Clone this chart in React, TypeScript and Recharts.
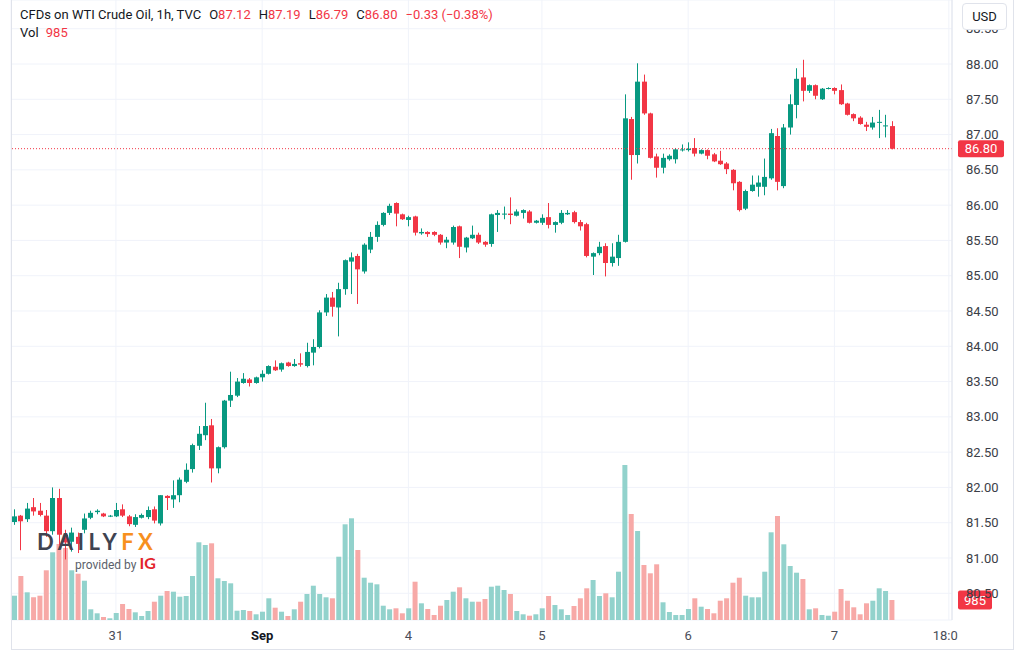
import { ComposedChart, Bar, XAxis, YAxis, CartesianGrid, ReferenceLine, Cell } from "recharts";

// hourly candles, WTI crude (TVC), Aug 30 -> Sep 7
const opens = [
  81.51, 81.60, 81.55, 81.72, 81.67, 81.60, 81.38, 81.85, 81.33, 81.23,
  81.30, 81.40, 81.57, 81.65, 81.63, 81.59, 81.59, 81.69, 81.59, 81.47,
  81.57, 81.58, 81.69, 81.49, 81.88, 81.83, 81.89, 82.08, 82.26, 82.59,
  82.74, 82.88, 82.27, 82.57, 83.23, 83.30, 83.48, 83.53, 83.48, 83.56,
  83.61, 83.71, 83.67, 83.77, 83.72, 83.76, 83.72, 83.91, 83.99, 84.48,
  84.69, 84.55, 84.81, 85.20, 85.28, 85.06, 85.37, 85.55, 85.72, 85.89,
  86.03, 85.87, 85.79, 85.84, 85.60, 85.62, 85.62, 85.58, 85.47, 85.47,
  85.70, 85.40, 85.53, 85.58, 85.48, 85.45, 85.86, 85.87, 85.88, 85.85,
  85.89, 85.91, 85.75, 85.75, 85.83, 85.72, 85.75, 85.87, 85.90, 85.76,
  85.73, 85.27, 85.32, 85.42, 85.18, 85.25, 85.48, 87.22, 86.71, 87.75,
  87.30, 86.69, 86.53, 86.65, 86.65, 86.78, 86.78, 86.81, 86.73, 86.78,
  86.72, 86.63, 86.59, 86.50, 86.33, 85.95, 86.20, 86.26, 86.26, 86.38,
  86.98, 86.27, 87.10, 87.42, 87.81, 87.62, 87.70, 87.50, 87.65, 87.66,
  87.63, 87.44, 87.29, 87.24, 87.14, 87.10, 87.17, 87.12, 87.12,
];
const highs = [
  81.69, 81.61, 81.78, 81.85, 81.78, 81.68, 82.00, 81.98, 81.40, 81.43,
  81.36, 81.63, 81.67, 81.69, 81.64, 81.61, 81.78, 81.76, 81.61, 81.62,
  81.63, 81.73, 81.73, 81.89, 81.89, 82.10, 82.14, 82.34, 82.62, 82.87,
  83.20, 82.97, 82.58, 83.24, 83.64, 83.55, 83.62, 83.55, 83.57, 83.66,
  83.73, 83.80, 83.77, 83.78, 83.82, 83.90, 84.05, 84.10, 84.51, 84.74,
  84.77, 84.90, 85.23, 85.33, 85.31, 85.46, 85.62, 85.77, 85.90, 86.02,
  86.04, 85.88, 85.85, 85.85, 85.67, 85.63, 85.63, 85.59, 85.55, 85.71,
  85.71, 85.55, 85.71, 85.61, 85.49, 85.88, 85.93, 85.98, 86.11, 85.94,
  85.94, 85.93, 85.79, 85.87, 86.03, 85.77, 85.93, 85.93, 85.92, 85.79,
  85.75, 85.33, 85.48, 85.46, 85.46, 85.58, 87.57, 87.25, 88.01, 87.85,
  87.31, 86.73, 86.73, 86.72, 86.81, 86.86, 86.89, 86.95, 86.79, 86.79,
  86.74, 86.77, 86.61, 86.51, 86.34, 86.22, 86.42, 86.42, 86.66, 87.08,
  87.09, 87.15, 87.57, 87.94, 88.06, 87.71, 87.71, 87.66, 87.67, 87.67,
  87.71, 87.45, 87.30, 87.26, 87.18, 87.25, 87.35, 87.28, 87.19,
];
const lows = [
  81.47, 81.11, 81.51, 81.60, 81.59, 81.30, 81.33, 81.18, 80.98, 81.09,
  81.07, 81.35, 81.55, 81.62, 81.58, 81.58, 81.58, 81.58, 81.45, 81.44,
  81.56, 81.55, 81.49, 81.46, 81.68, 81.71, 81.79, 82.06, 82.21, 82.53,
  82.67, 82.07, 82.20, 82.55, 83.14, 83.28, 83.47, 83.43, 83.47, 83.50,
  83.60, 83.65, 83.64, 83.71, 83.71, 83.71, 83.70, 83.73, 83.97, 84.43,
  84.42, 84.14, 84.73, 84.74, 84.60, 85.03, 85.32, 85.48, 85.70, 85.86,
  85.70, 85.79, 85.70, 85.57, 85.58, 85.55, 85.56, 85.44, 85.39, 85.44,
  85.25, 85.33, 85.52, 85.45, 85.41, 85.41, 85.62, 85.80, 85.73, 85.84,
  85.81, 85.74, 85.74, 85.72, 85.67, 85.61, 85.73, 85.86, 85.74, 85.64,
  85.26, 85.01, 85.29, 84.99, 85.13, 85.14, 85.47, 86.36, 86.59, 87.28,
  86.66, 86.39, 86.45, 86.63, 86.59, 86.76, 86.76, 86.69, 86.72, 86.65,
  86.61, 86.57, 86.44, 86.21, 85.91, 85.93, 86.19, 86.12, 86.14, 86.36,
  86.21, 86.24, 87.00, 87.23, 87.47, 87.59, 87.50, 87.49, 87.64, 87.57,
  87.42, 87.27, 87.19, 87.14, 87.05, 87.07, 86.95, 86.96, 86.79,
];
const closes = [
  81.59, 81.52, 81.70, 81.66, 81.61, 81.38, 81.85, 81.33, 81.22, 81.36,
  81.20, 81.56, 81.64, 81.67, 81.59, 81.60, 81.68, 81.60, 81.48, 81.58,
  81.61, 81.68, 81.53, 81.89, 81.85, 81.89, 82.11, 82.25, 82.60, 82.76,
  82.87, 82.27, 82.57, 83.23, 83.31, 83.50, 83.54, 83.48, 83.56, 83.61,
  83.72, 83.66, 83.76, 83.72, 83.75, 83.74, 83.92, 83.99, 84.48, 84.69,
  84.56, 84.81, 85.22, 85.26, 85.09, 85.44, 85.55, 85.72, 85.89, 85.99,
  85.88, 85.80, 85.83, 85.61, 85.62, 85.59, 85.58, 85.47, 85.51, 85.69,
  85.41, 85.54, 85.58, 85.47, 85.44, 85.87, 85.89, 85.88, 85.86, 85.91,
  85.93, 85.75, 85.78, 85.82, 85.72, 85.76, 85.89, 85.89, 85.76, 85.70,
  85.28, 85.32, 85.41, 85.18, 85.27, 85.48, 87.23, 86.71, 87.75, 87.30,
  86.67, 86.53, 86.67, 86.70, 86.79, 86.79, 86.80, 86.73, 86.78, 86.70,
  86.62, 86.58, 86.51, 86.31, 85.93, 86.20, 86.29, 86.32, 86.40, 87.02,
  86.33, 87.10, 87.43, 87.79, 87.62, 87.70, 87.55, 87.65, 87.66, 87.62,
  87.43, 87.28, 87.23, 87.15, 87.11, 87.17, 87.18, 87.13, 86.80,
];
const volumes = [
  1197, 2167, 1364, 1118, 1197, 2448, 3334, 3743, 3546, 2448,
  2280, 1935, 527, 330, 148, 84, 345, 788, 542, 379,
  197, 443, 901, 1197, 1428, 1394, 1148, 1182, 2167, 3827,
  3694, 3777, 2054, 1921, 1807, 458, 493, 443, 281, 409,
  1069, 606, 409, 197, 527, 901, 1281, 1689, 1281, 1118,
  1069, 3117, 4713, 5009, 3448, 2083, 1837, 1758, 704, 527,
  576, 330, 576, 1886, 822, 542, 246, 704, 985, 1394,
  1610, 1069, 901, 901, 1034, 1640, 1689, 1478, 1281, 443,
  281, 212, 281, 576, 1182, 739, 527, 246, 690, 1069,
  1561, 1970, 1182, 1315, 1118, 2379, 7634, 5221, 4383, 2709,
  2300, 2743, 872, 394, 246, 246, 542, 1069, 655, 542,
  330, 950, 1069, 1837, 2083, 1197, 1118, 1118, 2379, 4319,
  5122, 3728, 2660, 2330, 2019, 527, 576, 246, 212, 409,
  1527, 950, 625, 281, 822, 950, 1561, 1428, 985,
];

// first bar of each session on the time axis, plus the trailing hour label
const dayTicks = [16, 39, 62, 83, 106, 129, 147];
const dayLabels = ["31", "Sep", "4", "5", "6", "7", "18:00"];
const priceTicks = [80.5, 81, 81.5, 82, 82.5, 83, 83.5, 84, 84.5, 85, 85.5, 86, 86.5, 87, 87.5, 88, 88.5];

const SLOTS = 148;
const PRICE_DOMAIN = [80.1214, 88.9069];
const VOL_MAX = 30535;

const UP = "#089981";
const DOWN = "#f23645";
const UP_VOL = "#92d2cc";
const DOWN_VOL = "#f7a9a7";
const TEXT = "#131722";
const FONT = "Roboto, 'Noto Sans', sans-serif";

const rows = Array.from({ length: SLOTS }, (_, i) =>
  i < opens.length
    ? {
        i,
        open: opens[i],
        high: highs[i],
        low: lows[i],
        close: closes[i],
        range: [lows[i], highs[i]],
        vol: volumes[i],
        up: closes[i] >= opens[i],
      }
    : { i }
);

const last = opens.length - 1;
const lastClose = closes[last];
const lastVol = volumes[last];
const change = lastClose - closes[last - 1];
const changePct = (change / closes[last - 1]) * 100;
const signed = (v: number) => (v < 0 ? "\u2212" : "+") + Math.abs(v).toFixed(2);

function Candle(props: any) {
  const { x, y, width, height, payload } = props;
  if (!payload || payload.open == null || !Number.isFinite(y) || !Number.isFinite(height)) return null;
  const { open, close, high, low } = payload;
  const top = Math.min(y, y + height);
  const span = Math.abs(height);
  const k = span / (high - low);
  const cx = Math.round(x + width / 2) + 0.5;
  const color = close >= open ? UP : DOWN;
  const bTop = top + (high - Math.max(open, close)) * k;
  const bBot = top + (high - Math.min(open, close)) * k;
  return (
    <g>
      <line x1={cx} x2={cx} y1={top} y2={top + span} stroke={color} strokeWidth={1} />
      <rect x={cx - 2.5} y={bTop} width={5} height={Math.max(1, bBot - bTop)} fill={color} />
    </g>
  );
}

function TimeTick(props: any) {
  const { x, y, payload } = props;
  const k = dayTicks.indexOf(payload.value);
  const label = dayLabels[k] ?? "";
  const bold = label === "Sep";
  const text = (tx: number, ty: number) => (
    <text x={tx} y={ty} textAnchor="middle" fontSize={13} fontWeight={bold ? 700 : 400} fill={bold ? TEXT : "#4a4d57"}>
      {label}
    </text>
  );
  if (k === dayTicks.length - 1) {
    // the last label runs under the price scale and gets cut off
    return (
      <svg x={x - 20} y={y} width={29} height={29} overflow="hidden">
        {text(20, 18)}
      </svg>
    );
  }
  return text(x, y + 18);
}

function AxisTag({ viewBox, text, w, h }: any) {
  if (!viewBox) return null;
  const x = viewBox.x + viewBox.width + 6;
  const y = viewBox.y;
  return (
    <g>
      <rect x={x} y={y - h / 2} width={w} height={h} rx={2} fill={DOWN} />
      <text x={x + w / 2} y={y} dy="0.36em" textAnchor="middle" fill="#fff" fontSize={13}>
        {text}
      </text>
    </g>
  );
}

export default function App() {
  return (
    <div
      style={{
        position: "absolute",
        left: 0,
        top: 0,
        width: 1024,
        height: 661,
        background: "#fff",
        fontFamily: FONT,
        overflow: "hidden",
      }}
    >
      <ComposedChart width={1024} height={661} data={rows} margin={{ top: 0, right: 11, bottom: 12, left: 11 }}>
        <CartesianGrid xAxisId="t" yAxisId="p" stroke="#f0f3fa" />
        <XAxis
          xAxisId="t"
          dataKey="i"
          ticks={dayTicks}
          interval={0}
          axisLine={false}
          tickLine={false}
          tickSize={0}
          height={29}
          tick={<TimeTick />}
        />
        <XAxis xAxisId="v" dataKey="i" hide />
        <YAxis
          yAxisId="p"
          orientation="right"
          domain={PRICE_DOMAIN}
          allowDataOverflow
          ticks={priceTicks}
          interval={0}
          width={61}
          tickLine={false}
          tickSize={0}
          tickMargin={14}
          axisLine={{ stroke: "#e0e3eb" }}
          tick={{ fontSize: 13, fill: "#3b3e47" }}
          tickFormatter={(v: number) => v.toFixed(2)}
        />
        <YAxis yAxisId="v" hide domain={[0, VOL_MAX]} allowDataOverflow />
        <Bar xAxisId="v" yAxisId="v" dataKey="vol" barSize={5} isAnimationActive={false}>
          {rows.map((r: any, i) => (
            <Cell key={i} fill={r.up ? UP_VOL : DOWN_VOL} />
          ))}
        </Bar>
        <Bar xAxisId="t" yAxisId="p" dataKey="range" shape={<Candle />} isAnimationActive={false} />
        <ReferenceLine
          xAxisId="t"
          yAxisId="p"
          y={lastClose}
          stroke={DOWN}
          strokeDasharray="1 2"
          label={<AxisTag text={lastClose.toFixed(2)} w={46} h={17} />}
        />
        <ReferenceLine
          xAxisId="v"
          yAxisId="v"
          y={lastVol}
          stroke="none"
          label={<AxisTag text={String(lastVol)} w={34} h={19} />}
        />
      </ComposedChart>

      {/* frame */}
      <div
        style={{
          position: "absolute",
          left: 11,
          top: 0,
          width: 1003,
          height: 650,
          boxSizing: "border-box",
          borderLeft: "1px solid #e0e3eb",
          borderRight: "1px solid #e0e3eb",
          borderBottom: "1px solid #e0e3eb",
          pointerEvents: "none",
        }}
      />

      {/* legend */}
      <div style={{ position: "absolute", left: 20, top: 6, fontSize: 13, color: TEXT, whiteSpace: "nowrap", lineHeight: "18px" }}>
        <div>
          <span style={{ marginRight: 8 }}>CFDs on WTI Crude Oil, 1h, TVC</span>
          <span style={{ marginRight: 8 }}>
            O<span style={{ color: DOWN }}>{opens[last].toFixed(2)}</span>
          </span>
          <span style={{ marginRight: 8 }}>
            H<span style={{ color: DOWN }}>{highs[last].toFixed(2)}</span>
          </span>
          <span style={{ marginRight: 8 }}>
            L<span style={{ color: DOWN }}>{lows[last].toFixed(2)}</span>
          </span>
          <span style={{ marginRight: 8 }}>
            C<span style={{ color: DOWN }}>{lastClose.toFixed(2)}</span>
          </span>
          <span style={{ color: DOWN }}>
            {signed(change)} ({signed(changePct)}%)
          </span>
        </div>
        <div>
          Vol <span style={{ color: DOWN, marginLeft: 4 }}>{lastVol}</span>
        </div>
      </div>

      {/* currency button, it hides most of the top price label */}
      <div
        style={{
          position: "absolute",
          left: 962,
          top: 3,
          width: 45,
          height: 27,
          boxSizing: "border-box",
          border: "1px solid #e0e3eb",
          borderRadius: 4,
          background: "#fff",
          fontSize: 13,
          color: TEXT,
          textAlign: "center",
          lineHeight: "25px",
        }}
      >
        USD
      </div>

      {/* watermark */}
      <div style={{ position: "absolute", left: 37, top: 530, whiteSpace: "nowrap", pointerEvents: "none" }}>
        <div style={{ fontSize: 22, fontWeight: 700, letterSpacing: 4.5, lineHeight: "24px", fontFamily: "Lato, sans-serif" }}>
          <span style={{ color: "#3f4350" }}>DAILY</span>
          <span style={{ color: "#f7901e" }}>FX</span>
        </div>
        <div style={{ marginLeft: 38, marginTop: 1, lineHeight: "16px" }}>
          <span style={{ fontSize: 12, color: "#5b5f6b" }}>provided by </span>
          <span style={{ fontSize: 16, fontWeight: 700, color: "#e3242b", fontFamily: "Lato, sans-serif" }}>IG</span>
        </div>
      </div>
    </div>
  );
}
